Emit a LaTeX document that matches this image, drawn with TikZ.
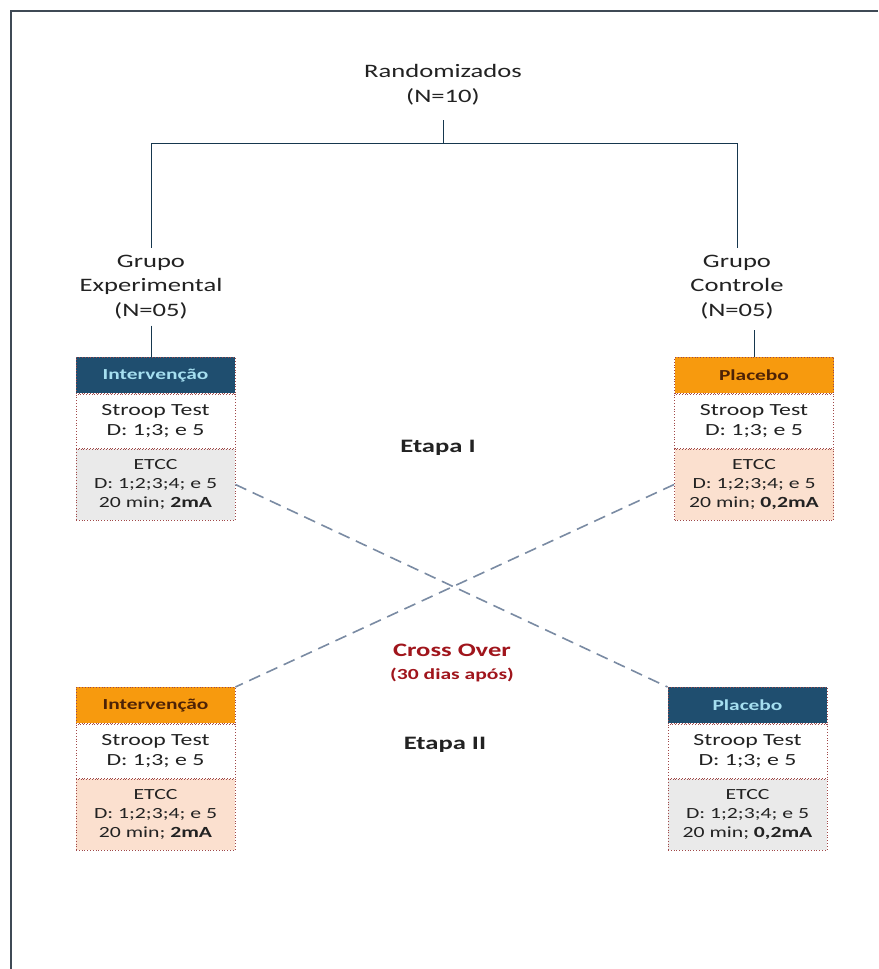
\documentclass[tikz,border=0pt]{standalone}
\usepackage{fontspec}
\setmainfont{Carlito}[FakeStretch=1.4]
\definecolor{framec}{HTML}{3F4A55}
\definecolor{txt}{HTML}{222222}
\definecolor{hblue}{HTML}{1F4E6F}
\definecolor{hbluetxt}{HTML}{A5DFF0}
\definecolor{horange}{HTML}{F79A0E}
\definecolor{horangetxt}{HTML}{4D2206}
\definecolor{greyfill}{HTML}{EAEAEA}
\definecolor{peach}{HTML}{FBE0CF}
\definecolor{boxred}{HTML}{A04848}
\definecolor{crossc}{HTML}{7A8BA3}
\definecolor{redtxt}{HTML}{A0151C}
\begin{document}
\begin{tikzpicture}[x=1pt,y=-1pt,
  lbl/.style={text=txt,align=center,font=\fontsize{19}{24.5}\selectfont},
  conn/.style={draw=hblue!70!black,line width=1pt},
  sect/.style={draw=boxred,dotted,line width=0.8pt,minimum width=159pt,
    inner sep=0pt,align=center,anchor=north,text=txt},
  hdrblue/.style={sect,fill=hblue,text=hbluetxt,minimum height=36pt,
    font=\fontsize{15.3}{16}\selectfont\bfseries},
  hdrorange/.style={sect,fill=horange,text=horangetxt,minimum height=36pt,
    font=\fontsize{15.3}{16}\selectfont\bfseries},
  stroopsec/.style={sect,fill=white,minimum height=54pt,
    font=\fontsize{17}{20}\selectfont},
  etccsec/.style={sect,minimum height=71pt,
    font=\fontsize{15.5}{19}\selectfont},
  crossline/.style={draw=crossc,line width=1.6pt,dash pattern=on 12pt off 7pt},
  stage/.style={text=txt,font=\fontsize{19}{22}\selectfont\bfseries}
]
\useasboundingbox (0,0) rectangle (878,969);
\fill[white] (0,0) rectangle (878,969);
\draw[framec,line width=1.8pt] (11,969) -- (11,11) -- (878,11);

% randomisation and the two groups
\node[lbl] (rand) at (443,84.5) {Randomizados\\(N=10)};
\coordinate (split) at (443,143);
\coordinate (lsplit) at (151,143);
\coordinate (rsplit) at (737,143);
\node[lbl] (gexp) at (151,287) {Grupo\\Experimental\\(N=05)};
\node[lbl] (gctl) at (737,287) {Grupo\\Controle\\(N=05)};
\draw[conn,shorten <=12pt] (rand) -- (split);
\draw[conn] (lsplit) -- (rsplit);
\draw[conn,shorten >=3pt] (lsplit) -- (gexp);
\draw[conn,shorten >=3pt] (rsplit) -- (gctl);

% stage I boxes
\node[hdrblue] (tlHead) at (155.5,357) {Intervenção};
\node[stroopsec] (tlStroop) at (tlHead.south) {Stroop Test\\D: 1;3; e 5};
\node[etccsec,fill=greyfill] (tlEtcc) at (tlStroop.south)
  {ETCC\\D: 1;2;3;4; e 5\\20 min; \textbf{2mA}};
\node[hdrorange] (trHead) at (754,357) {Placebo};
\node[stroopsec] (trStroop) at (trHead.south) {Stroop Test\\D: 1;3; e 5};
\node[etccsec,fill=peach] (trEtcc) at (trStroop.south)
  {ETCC\\D: 1;2;3;4; e 5\\20 min; \textbf{0,2mA}};
\draw[conn,shorten <=3pt] (gexp.south) -- (gexp.south |- tlHead.north);
\coordinate (rtick) at (754,330);
\draw[conn] (rtick) -- (trHead.north);

% stage II boxes
\node[hdrorange] (blHead) at (155.5,687) {Intervenção};
\node[stroopsec] (blStroop) at (blHead.south) {Stroop Test\\D: 1;3; e 5};
\node[etccsec,fill=peach] (blEtcc) at (blStroop.south)
  {ETCC\\D: 1;2;3;4; e 5\\20 min; \textbf{2mA}};
\node[hdrblue] (brHead) at (747.5,687) {Placebo};
\node[stroopsec] (brStroop) at (brHead.south) {Stroop Test\\D: 1;3; e 5};
\node[etccsec,fill=greyfill] (brEtcc) at (brStroop.south)
  {ETCC\\D: 1;2;3;4; e 5\\20 min; \textbf{0,2mA}};

% cross-over connectors
\draw[crossline] (tlEtcc.east) -- (brHead.north west);
\draw[crossline] (trEtcc.west) -- (blHead.north east);

% stage labels
\node[stage] (etapa1) at (438,448) {Etapa I};
\node[stage,text=redtxt,align=center] (cross) at (452,650) {Cross Over};
\node[stage,text=redtxt,font=\fontsize{15.4}{16}\selectfont\bfseries] (dias) at (452,675) {(30 dias após)};
\node[stage] (etapa2) at (445,745) {Etapa II};
\end{tikzpicture}
\end{document}
